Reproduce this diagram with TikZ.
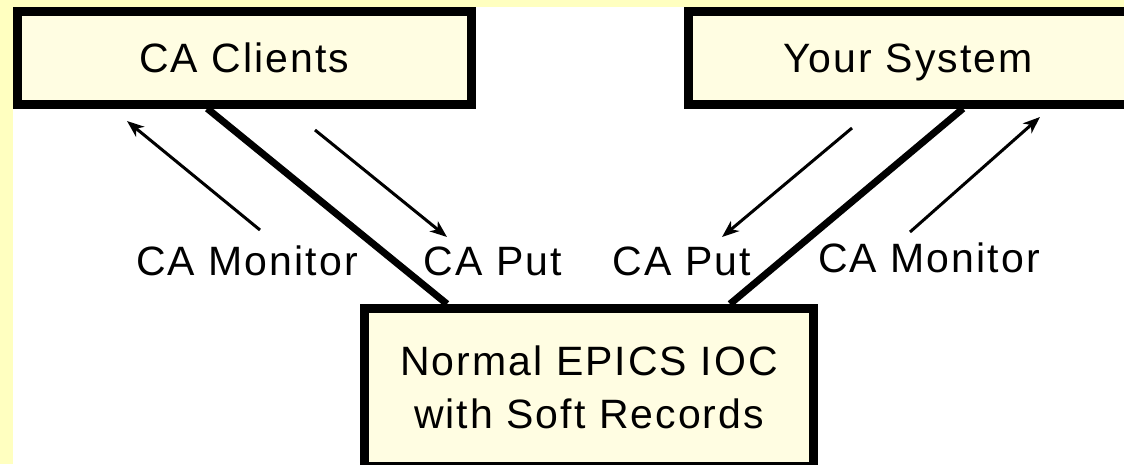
\documentclass[tikz,border=0pt]{standalone}
\usepackage{fontspec}
\usepackage{xcolor}
\usepackage{tikz}
\usetikzlibrary{arrows.meta}

\newfontfamily\labelfont{Liberation Sans}[LetterSpace=5]
\definecolor{pageyellow}{HTML}{FFFFC0}
\definecolor{boxcream}{HTML}{FFFDE2}

\tikzset{
  lbl/.style={font=\labelfont\fontsize{41}{53}\selectfont, inner sep=0pt},
  sysbox/.style={lbl, draw=black, line width=9pt, fill=boxcream, align=center},
  link/.style={line width=7pt},
  flow/.style={line width=3pt, -{Stealth[length=17pt,width=13pt,inset=5pt]}},
}

\begin{document}
\begin{tikzpicture}[x=1pt,y=-1pt]
\fill[pageyellow] (0,0) rectangle (1124,464);
\fill[white] (13,7) rectangle (1124,464);
\useasboundingbox (0,0) rectangle (1124,464);

% the three boxes
\node[sysbox, minimum width=453.5pt, minimum height=92.5pt] (clients) at (244.25,57.75) {CA Clients};
\node[sysbox, text depth=0pt, minimum width=440pt, minimum height=92.5pt] (system) at (908,57.75) {Your System};
\node[sysbox, minimum width=449pt, minimum height=157.5pt] (ioc) at (589,387.25) {Normal EPICS IOC\\with Soft Records};

% links
\draw[link] ([xshift=-37pt]clients.south) -- ([xshift=-142pt]ioc.north);
\draw[link] ([xshift=55pt]system.south) -- ([xshift=141pt]ioc.north);

% labels
\node[lbl] (monl) at (247,261) {CA Monitor};
\node[lbl] (putl) at (493,261) {CA Put};
\node[lbl] (putr) at (682,261) {CA Put};
\node[lbl] (monr) at (929,258) {CA Monitor};

% flows
\coordinate (mla) at (260,230); \coordinate (mlb) at (127,121);
\coordinate (pla) at (315,130); \coordinate (plb) at (447,237);
\coordinate (pra) at (852,128); \coordinate (prb) at (722,237);
\coordinate (mra) at (910,232); \coordinate (mrb) at (1040,117);
\draw[flow] (mla) -- (mlb);
\draw[flow] (pla) -- (plb);
\draw[flow] (pra) -- (prb);
\draw[flow] (mra) -- (mrb);
\end{tikzpicture}
\end{document}
